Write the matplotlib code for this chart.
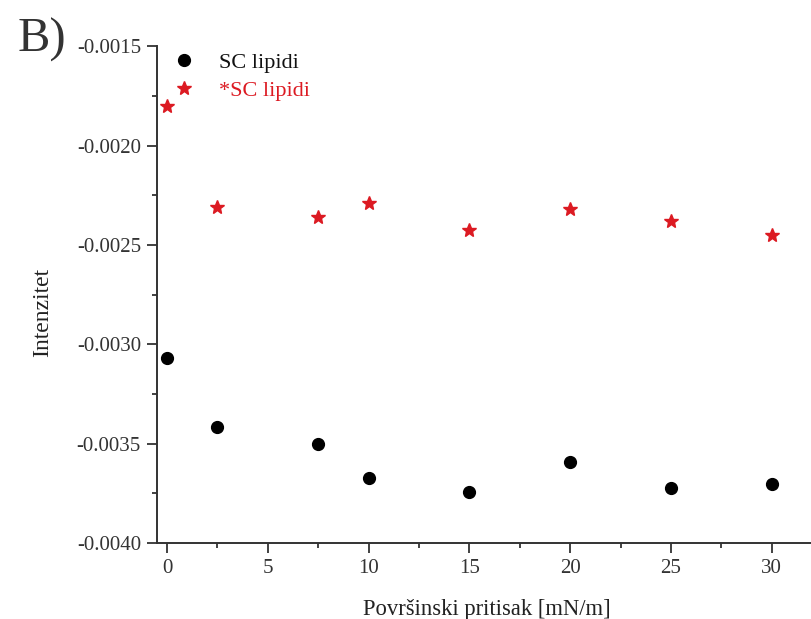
import matplotlib.pyplot as plt
from matplotlib.ticker import MultipleLocator, FormatStrFormatter

# surface pressure [mN/m]
pressure = [0, 2.5, 7.5, 10, 15, 20, 25, 30]
# intensities
sc_lipidi = [-0.003067, -0.003414, -0.003503, -0.003673, -0.003742, -0.003591, -0.003724, -0.003704]
sc_lipidi_star = [-0.00180, -0.002308, -0.002358, -0.002288, -0.002426, -0.002318, -0.00238, -0.002447]

red = '#dc1a22'
plt.rcParams['font.family'] = ['Liberation Serif', 'DejaVu Serif']

fig = plt.figure(figsize=(8.12, 6.19), dpi=100)
ax = fig.add_axes([0.1933, 0.1228, 0.8067, 0.8021])

ax.plot(pressure, sc_lipidi, 'o', color='black', markersize=8.5, linestyle='none', label='SC lipidi')
ax.plot(pressure, sc_lipidi_star, '*', color=red, markersize=10, linestyle='none', label='*SC lipidi')

ax.set_xlim(-0.5, 32)
ax.set_ylim(-0.0040, -0.0015)
ax.xaxis.set_major_locator(MultipleLocator(5))
ax.xaxis.set_minor_locator(MultipleLocator(2.5))
ax.yaxis.set_major_locator(MultipleLocator(0.0005))
ax.yaxis.set_minor_locator(MultipleLocator(0.00025))
ax.yaxis.set_major_formatter(FormatStrFormatter('%.4f'))

for side in ['top', 'right']:
    ax.spines[side].set_visible(False)
for side in ['left', 'bottom']:
    ax.spines[side].set_linewidth(1.4)
    ax.spines[side].set_color('#333333')

ax.tick_params(which='major', direction='out', length=7, width=1.3, labelsize=15, colors='#333333', pad=4.5)
ax.tick_params(which='minor', direction='out', length=3.5, width=1.3, colors='#333333')

ax.set_xlabel('Površinski pritisak [mN/m]', fontsize=16.3, color='#222222')
ax.set_ylabel('Intenzitet', fontsize=17, color='#222222')
ax.xaxis.set_label_coords(0.504, -0.112)
ax.yaxis.set_label_coords(-0.159, 0.465)

leg = ax.legend(loc='upper left', bbox_to_anchor=(0.0, 1.02), frameon=False, fontsize=16,
                handletextpad=1.1, labelspacing=0.35, handlelength=1.0, borderaxespad=0.3)
leg.get_texts()[0].set_color('#111111')
leg.get_texts()[1].set_color(red)

fig.text(0.022, 0.972, 'B)', fontsize=35, va='top', ha='left', color='#333333')

plt.savefig('out.png', dpi=100)
